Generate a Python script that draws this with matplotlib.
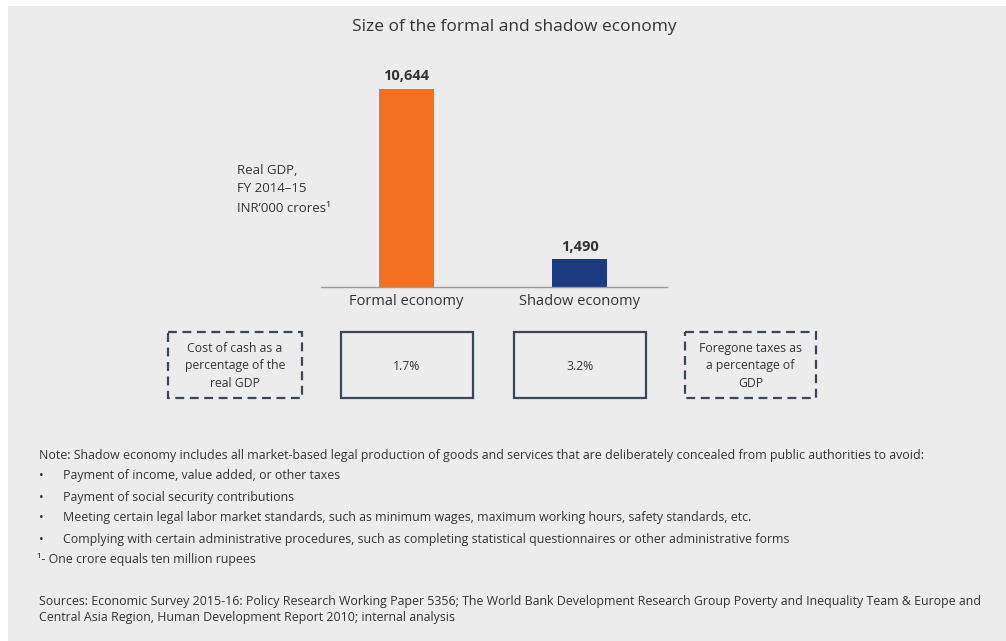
import matplotlib.pyplot as plt
from matplotlib.patches import Rectangle

plt.rcParams['font.family'] = ['Open Sans', 'DejaVu Sans']

# bar data: real GDP FY 2014-15, INR '000 crores
categories = ['Formal economy', 'Shadow economy']
gdp_values = [10644, 1490]
value_labels = ['10,644', '1,490']
bar_colors = ['#f37021', '#1c3a82']

# cost of cash / foregone taxes, as % of GDP
pct_labels = ['1.7%', '3.2%']
side_labels = ['Cost of cash as a\npercentage of the\nreal GDP',
               'Foregone taxes as\na percentage of\nGDP']

note_head = ('Note: Shadow economy includes all market-based legal production of goods and services '
             'that are deliberately concealed from public authorities to avoid:')
note_bullets = [
    'Payment of income, value added, or other taxes',
    'Payment of social security contributions',
    'Meeting certain legal labor market standards, such as minimum wages, maximum working hours, '
    'safety standards, etc.',
    'Complying with certain administrative procedures, such as completing statistical '
    'questionnaires or other administrative forms',
]
footnote = '\u00b9- One crore equals ten million rupees'
sources = ['Sources: Economic Survey 2015-16: Policy Research Working Paper 5356; The World Bank '
           'Development Research Group Poverty and Inequality Team & Europe and',
           'Central Asia Region, Human Development Report 2010; internal analysis']

W, H = 1006, 641
txt = '#333333'
edge = '#3b4659'
note_size = 8.9

fig = plt.figure(figsize=(W / 100, H / 100), dpi=100)
fig.patch.set_facecolor('white')

# page layer in pixel units for the background, boxes and notes
page = fig.add_axes([0, 0, 1, 1])
page.set_xlim(0, W)
page.set_ylim(H, 0)
page.axis('off')
page.add_patch(Rectangle((8, 6), W - 8, H - 6, facecolor='#ececec', edgecolor='none'))

page.text(514, 27, 'Size of the formal and shadow economy', ha='center', va='center',
          fontsize=12.5, color=txt)

page.text(237, 189, 'Real GDP,\nFY 2014\u201315\nINR\u2019000 crores\u00b9', ha='left', va='center',
          fontsize=9.5, color=txt, linespacing=1.6)

# bar chart
ax = fig.add_axes([321 / W, (H - 287) / H, 346 / W, 223.2 / H])
ax.set_facecolor('none')
x = range(len(categories))
ax.bar(x, gdp_values, width=0.317, color=bar_colors)
ax.set_xlim(-0.493, 1.502)
ax.set_ylim(0, 12000)
for i, v in enumerate(gdp_values):
    ax.annotate(value_labels[i], (i, v), xytext=(0, 4), textcoords='offset points',
                ha='center', va='bottom', fontsize=10.5, fontweight='bold', color=txt)
ax.set_xticks(list(x))
ax.set_xticklabels(categories, fontsize=10.5, color=txt)
ax.set_yticks([])
ax.tick_params(axis='x', length=0, pad=5)
for s in ['top', 'left', 'right']:
    ax.spines[s].set_visible(False)
ax.spines['bottom'].set_color('#9a9a9a')
ax.spines['bottom'].set_linewidth(1)

# boxes under the bars
boxes = [(168, 302, True), (341, 473, False), (514, 646, False), (685, 816, True)]
box_text = [side_labels[0], pct_labels[0], pct_labels[1], side_labels[1]]
for (x0, x1, dashed), t in zip(boxes, box_text):
    ls = (0, (4, 2.5)) if dashed else '-'
    page.add_patch(Rectangle((x0, 332), x1 - x0, 66, fill=False, edgecolor=edge,
                             linewidth=1.6, linestyle=ls))
    page.text((x0 + x1) / 2, 366, t, ha='center', va='center', fontsize=8.8,
              color=txt, linespacing=1.45)

# notes
page.text(39, 455, note_head, ha='left', va='center', fontsize=note_size, color=txt)
for k, b in enumerate(note_bullets):
    yy = 476 + k * 21
    page.text(39, yy, '\u2022', ha='left', va='center', fontsize=note_size, color=txt)
    page.text(63, yy, b, ha='left', va='center', fontsize=note_size, color=txt)
page.text(37, 559, footnote, ha='left', va='center', fontsize=note_size, color=txt)
page.text(39, 601, sources[0], ha='left', va='center', fontsize=note_size, color=txt)
page.text(39, 617, sources[1], ha='left', va='center', fontsize=note_size, color=txt)

fig.savefig('out.png', dpi=100, facecolor=fig.get_facecolor())
